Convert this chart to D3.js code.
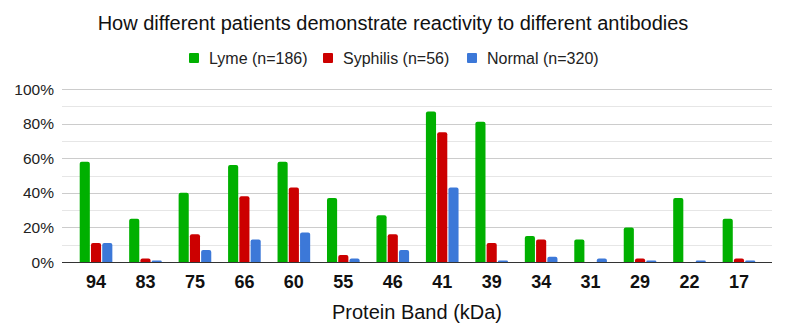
<!DOCTYPE html>
<html>
<head>
<meta charset="utf-8">
<script src="https://cdn.jsdelivr.net/npm/d3@7"></script>
<style>
  body { margin: 0; background: #fff; }
  svg { font-family: "Liberation Sans", Arial, sans-serif; }
</style>
</head>
<body>
<div id="chart"></div>
<script>
// chart data
var bands = ['94','83','75','66','60','55','46','41','39','34','31','29','22','17'];
var seriesNames = ['Lyme (n=186)','Syphilis (n=56)','Normal (n=320)'];
var seriesColors = ['#00b000','#cc0000','#3c78d8'];
var lyme     = [58, 25, 40, 56, 58, 37, 27, 87, 81, 15, 13, 20, 37, 25];
var syphilis = [11,  2, 16, 38, 43,  4, 16, 75, 11, 13,  0,  2,  0,  2];
var normal   = [11, 0.8, 7, 13, 17,  2,  7, 43, 0.8, 3,  2, 0.8, 0.8, 0.8];
var yTicks = [0, 20, 40, 60, 80, 100];

var width = 785, height = 331;
var plotLeft = 62, plotRight = 772, plotTop = 89, plotBottom = 262;

var svg = d3.select('#chart').append('svg').attr('width', width).attr('height', height);

var x = d3.scaleBand().domain(bands).range([71.3, 763.7]).paddingInner(0.34).paddingOuter(0.17);
var xs = d3.scaleBand().domain([0,1,2]).range([0, x.bandwidth()]).paddingInner(0.1);
var y = d3.scaleLinear().domain([0, 100]).range([plotBottom, plotTop]);

// gridlines: minor every 10%, major every 20%
var minor = d3.range(10, 101, 20);
svg.selectAll('.minor').data(minor).enter().append('line')
  .attr('x1', plotLeft).attr('x2', plotRight)
  .attr('y1', function(d){ return Math.round(y(d)) + 0.5; })
  .attr('y2', function(d){ return Math.round(y(d)) + 0.5; })
  .attr('stroke', '#e6e6e6');
svg.selectAll('.major').data(yTicks.slice(1)).enter().append('line')
  .attr('x1', plotLeft).attr('x2', plotRight)
  .attr('y1', function(d){ return Math.round(y(d)) + 0.5; })
  .attr('y2', function(d){ return Math.round(y(d)) + 0.5; })
  .attr('stroke', '#cccccc');

// y labels
svg.selectAll('.ylab').data(yTicks).enter().append('text')
  .attr('x', 54).attr('y', function(d){ return y(d) + 5.5; })
  .attr('text-anchor', 'end').attr('font-size', 15.5).attr('fill', '#222')
  .text(function(d){ return d + '%'; });

// bars
var all = [lyme, syphilis, normal];
var rows = [];
bands.forEach(function(b, i){
  all.forEach(function(s, j){ rows.push({band: b, s: j, v: s[i]}); });
});

function barPath(d){
  var x0 = x(d.band) + xs(d.s), w = xs.bandwidth();
  var y0 = y(d.v), y1 = y(0);
  var r = Math.min(2, (y1 - y0));
  return 'M' + x0 + ',' + y1 + 'V' + (y0 + r) + 'Q' + x0 + ',' + y0 + ' ' + (x0 + r) + ',' + y0 +
         'H' + (x0 + w - r) + 'Q' + (x0 + w) + ',' + y0 + ' ' + (x0 + w) + ',' + (y0 + r) + 'V' + y1 + 'Z';
}
svg.selectAll('.bar').data(rows.filter(function(d){ return d.v > 0; })).enter().append('path')
  .attr('class', 'bar')
  .attr('d', barPath)
  .attr('fill', function(d){ return seriesColors[d.s]; });

// zero line
svg.append('line').attr('x1', plotLeft).attr('x2', plotRight)
  .attr('y1', plotBottom + 0.5).attr('y2', plotBottom + 0.5)
  .attr('stroke', '#333').attr('stroke-width', 1.2);

// category labels
svg.selectAll('.xlab').data(bands).enter().append('text')
  .attr('x', function(d){ return x(d) + x.bandwidth() / 2; })
  .attr('y', 288).attr('text-anchor', 'middle')
  .attr('font-size', 18).attr('font-weight', 'bold').attr('fill', '#111')
  .text(function(d){ return d; });

// axis title
svg.append('text').attr('x', 417).attr('y', 319).attr('text-anchor', 'middle')
  .attr('font-size', 20).attr('fill', '#111').text('Protein Band (kDa)');

// title
svg.append('text').attr('x', 393).attr('y', 30).attr('text-anchor', 'middle')
  .attr('font-size', 20).attr('fill', '#111')
  .text('How different patients demonstrate reactivity to different antibodies');

// legend
var legendX = [189, 323, 467];
var leg = svg.selectAll('.leg').data(seriesNames).enter().append('g')
  .attr('transform', function(d, i){ return 'translate(' + legendX[i] + ',58)'; });
leg.append('rect').attr('x', 0).attr('y', -5).attr('width', 10).attr('height', 10).attr('rx', 1)
  .attr('fill', function(d, i){ return seriesColors[i]; });
leg.append('text').attr('x', 20).attr('y', 6).attr('font-size', 16).attr('fill', '#222')
  .text(function(d){ return d; });
</script>
</body>
</html>
